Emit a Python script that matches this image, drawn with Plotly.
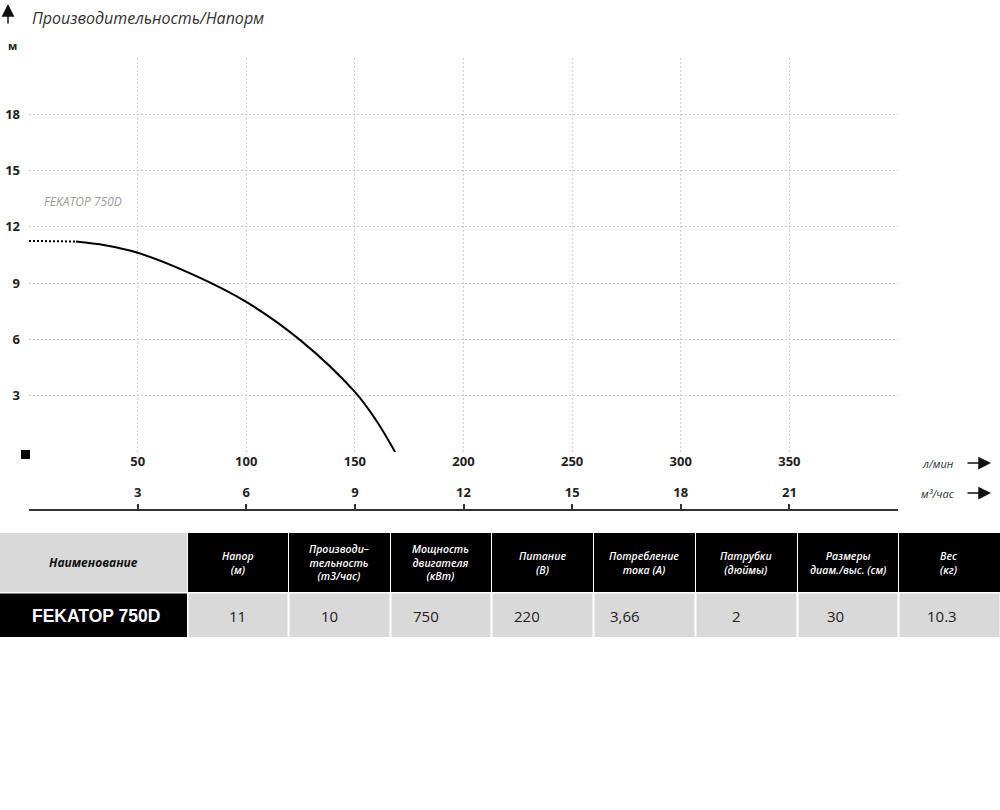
import plotly.graph_objects as go

# ---------------- data ----------------
flow_dotted = [0, 21.6]          # л/мин
head_dotted = [11.25, 11.22]     # м
flow_solid = [21.6, 35, 50, 75, 100, 125, 150, 160, 168.5]
head_solid = [11.22, 11.02, 10.62, 9.48, 8.0, 5.95, 3.2, 1.65, 0]

lmin_ticks = [0, 50, 100, 150, 200, 250, 300, 350, 400]
lmin_labels = ["", "50", "100", "150", "200", "250", "300", "350", ""]
m3h_ticks = [3, 6, 9, 12, 15, 18, 21]
m3h_labels = ["3", "6", "9", "12", "15", "18", "21"]
head_ticks = [0, 3, 6, 9, 12, 15, 18, 21]
head_labels = ["", "3", "6", "9", "12", "15", "18", ""]

model_name = "FEKATOP 750D"
table_first_header = "Наименование"
table_headers = ["Напор<br>(м)", "Производи–<br>тельность<br>(т3/час)",
                 "Мощность<br>двигателя<br>(кВт)", "Питание<br>(В)",
                 "Потребление<br>тока (А)", "Патрубки<br>(дюймы)",
                 "Размеры<br>диам./выс. (см)", "Вес<br>(кг)"]
table_values = ["11", "10", "750", "220", "3,66", "2", "30", "10.3"]

# ---------------- layout helpers ----------------
W, H = 1000, 810
def px(p):
    return p / W
def py(p):
    return 1 - p / H

GRID = "#cccccc"
GRID_DASH = "2px,2px"
TXT = "#222222"

fig = go.Figure()
fig.add_trace(go.Scatter(x=flow_dotted, y=head_dotted, mode="lines",
                         line=dict(color="black", width=2, dash="2px,2px"),
                         showlegend=False, hoverinfo="skip"))
fig.add_trace(go.Scatter(x=flow_solid, y=head_solid, mode="lines",
                         line=dict(color="black", width=2, shape="spline", smoothing=1.0),
                         showlegend=False, hoverinfo="skip"))
# helper trace for the secondary (m³/час) axis
fig.add_trace(go.Scatter(x=m3h_ticks, y=[None] * len(m3h_ticks), xaxis="x2", yaxis="y",
                         mode="markers", showlegend=False, hoverinfo="skip"))

plot_x0, plot_x1 = 29, 898
plot_top, plot_bottom = 58, 452

fig.update_layout(
    width=W, height=H,
    margin=dict(l=0, r=0, t=0, b=0),
    paper_bgcolor="white", plot_bgcolor="rgba(0,0,0,0)",
    showlegend=False,
    xaxis=dict(domain=[px(plot_x0), px(plot_x1)], range=[0, 400],
               tickmode="array", tickvals=lmin_ticks, ticktext=lmin_labels,
               showgrid=True, gridcolor=GRID, griddash=GRID_DASH, gridwidth=1,
               zeroline=False, showline=False, ticks="",
               tickfont=dict(family="Open Sans", size=13, color=TXT, weight="bold"),
               ticklabelstandoff=0, fixedrange=True),
    yaxis=dict(domain=[py(plot_bottom), py(plot_top)], range=[0, 21],
               tickmode="array", tickvals=head_ticks, ticktext=head_labels,
               showgrid=True, gridcolor=GRID, griddash=GRID_DASH, gridwidth=1,
               zeroline=False, showline=False, ticks="",
               tickfont=dict(family="Open Sans", size=13, color=TXT, weight="bold"),
               ticklabelstandoff=8, fixedrange=True),
    xaxis2=dict(domain=[px(plot_x0), px(plot_x1)], range=[0, 24], anchor="free",
                overlaying="x",
                position=py(510), side="top",
                tickmode="array", tickvals=m3h_ticks, ticktext=m3h_labels,
                showgrid=False, zeroline=False, showline=True,
                linecolor="#333333", linewidth=2,
                ticks="outside", ticklen=5, tickwidth=1.5, tickcolor="#333333",
                tickfont=dict(family="Open Sans", size=13, color=TXT, weight="bold"),
                ticklabelstandoff=2, fixedrange=True),
)

shapes = []
annotations = []

def note(x, y, text, font, xanchor="center", yanchor="middle", **kw):
    d = dict(x=px(x), y=py(y), xref="paper", yref="paper", xanchor=xanchor,
             yanchor=yanchor, showarrow=False, text=text, font=font)
    d.update(kw)
    annotations.append(d)

# title + arrow
note(30, 18, "Производительность/Напорм",
     dict(family="Open Sans", size=16, color="#333333", style="italic"), xanchor="left")
annotations.append(dict(x=px(8), y=py(4), xref="paper", yref="paper", showarrow=True,
                        ax=0, ay=21, text="",
                        arrowhead=2, arrowsize=1.7, arrowwidth=1.5, arrowcolor="#111111"))
note(12, 45, "<b>м</b>", dict(family="Open Sans", size=11, color=TXT))
# model label
note(42, 202, model_name, dict(family="Open Sans", size=12, color="#9a9a9a", style="italic"),
     xanchor="left")
# units on the right
for label, yy in [("л/мин", 463), ("м³/час", 493)]:
    note(938, yy, label, dict(family="Open Sans", size=11, color="#333333", style="italic"))
    annotations.append(dict(x=px(991), y=py(yy), xref="paper", yref="paper", showarrow=True,
                            ax=-25, ay=0, text="", arrowhead=2, arrowsize=1.7,
                            arrowwidth=1.5, arrowcolor="#111111"))

# black square at origin
shapes.append(dict(type="rect", xref="paper", yref="paper", x0=px(21), x1=px(30),
                   y0=py(459), y1=py(450), fillcolor="black", line=dict(width=0)))

# ---------------- table ----------------
col_edges = [0, 187, 288, 390, 491, 593, 695, 797, 898, 1000]
value_shift = [0, -10, -15, -15, -19, -10, -12, -7]   # text offset inside value cells (px)
hdr_top, hdr_bot, row_bot = 533, 592, 637
LIGHT = "#d9d9d9"

for i in range(len(col_edges) - 1):
    x0, x1 = col_edges[i], col_edges[i + 1]
    fill = LIGHT if i == 0 else "black"
    shapes.append(dict(type="rect", xref="paper", yref="paper",
                       x0=px(x0 + (0 if i == 0 else 1)), x1=px(x1), y0=py(hdr_bot), y1=py(hdr_top),
                       fillcolor=fill, line=dict(width=0), layer="below"))
for i in range(len(col_edges) - 1):
    x0, x1 = col_edges[i], col_edges[i + 1]
    fill = "black" if i == 0 else LIGHT
    shapes.append(dict(type="rect", xref="paper", yref="paper",
                       x0=px(x0 + (0 if i == 0 else 1.5)), x1=px(x1 - (0 if i == 0 else 0.5)),
                       y0=py(row_bot), y1=py(hdr_bot + 1.5),
                       fillcolor=fill, line=dict(width=0), layer="below"))

hdr_mid = (hdr_top + hdr_bot) / 2
row_mid = (hdr_bot + row_bot) / 2 + 1
note(93, hdr_mid, "<b>" + table_first_header + "</b>",
     dict(family="Open Sans", size=12, color="#111111", style="italic"))
note(96, row_mid, "<b>" + model_name + "</b>",
     dict(family="Liberation Sans", size=17.5, color="white"))
for i, (h, v) in enumerate(zip(table_headers, table_values)):
    x0, x1 = col_edges[i + 1], col_edges[i + 2]
    cx = (x0 + x1) / 2
    note(cx, hdr_mid, h, dict(family="Open Sans", size=10.5, color="white",
                              style="italic", weight=600), align="center")
    note(cx + value_shift[i], row_mid, v, dict(family="Open Sans", size=15, color="#222222"))

fig.update_layout(shapes=shapes, annotations=annotations)
fig.write_html("out.html", post_script="document.body.style.margin='0px';",
               config={"displayModeBar": False})
